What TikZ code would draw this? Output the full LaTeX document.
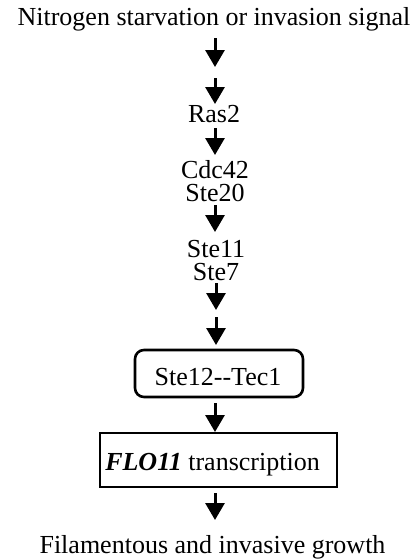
\documentclass[tikz,border=0pt]{standalone}
\usepackage{fontspec}
\setmainfont{Liberation Serif}
\usetikzlibrary{arrows.meta}
\begin{document}
\begin{tikzpicture}[x=1pt,y=-1pt,
  lbl/.style={anchor=base,inner sep=0pt,font=\fontsize{26}{28}\selectfont},
  pair/.style={anchor=base,inner sep=0pt,align=center,font=\fontsize{26}{22.5}\selectfont},
  arr/.style={line width=3pt,-{Triangle[width=19pt,length=17pt]}},
  boxline/.style={draw,line width=2.6pt,inner sep=0pt}]
\useasboundingbox (0,0) rectangle (413,560);
\node[lbl] (sig) at (214,25) {Nitrogen starvation or invasion signal};
\node[lbl] (ras) at (214,122) {Ras2};
\node[pair] (cdc) at (215,201) {Cdc42\\Ste20};
\node[pair] (s11) at (216,280) {Ste11\\Ste7};
\node[boxline,rounded corners=9pt,minimum width=168pt,minimum height=47pt] (tec) at (219,373.5) {};
\node[lbl] (tect) at (218,385) {Ste12-{}-Tec1};
\node[boxline,minimum width=237pt,minimum height=54pt] (flo) at (218.5,460) {};
\node[lbl] (flot) at (212.5,470) {\textbf{\textit{FLO11}} transcription};
\node[lbl] (fil) at (212.5,553) {Filamentous and invasive growth};
\coordinate (a1s) at (215,38); \coordinate (a1e) at (215,67);
\coordinate (a2s) at (215,78); \coordinate (a2e) at (215,104);
\coordinate (a3s) at (215,128); \coordinate (a3e) at (215,155);
\coordinate (a4s) at (215,205); \coordinate (a4e) at (215,232);
\coordinate (a5s) at (216,283); \coordinate (a5e) at (216,310);
\coordinate (a6s) at (216,317); \coordinate (a6e) at (216,345);
\coordinate (a7s) at (215,403); \coordinate (a7e) at (215,432);
\coordinate (a8s) at (215,493); \coordinate (a8e) at (215,520);
\foreach \i in {1,...,8} \draw[arr] (a\i s) -- (a\i e);
\end{tikzpicture}
\end{document}
